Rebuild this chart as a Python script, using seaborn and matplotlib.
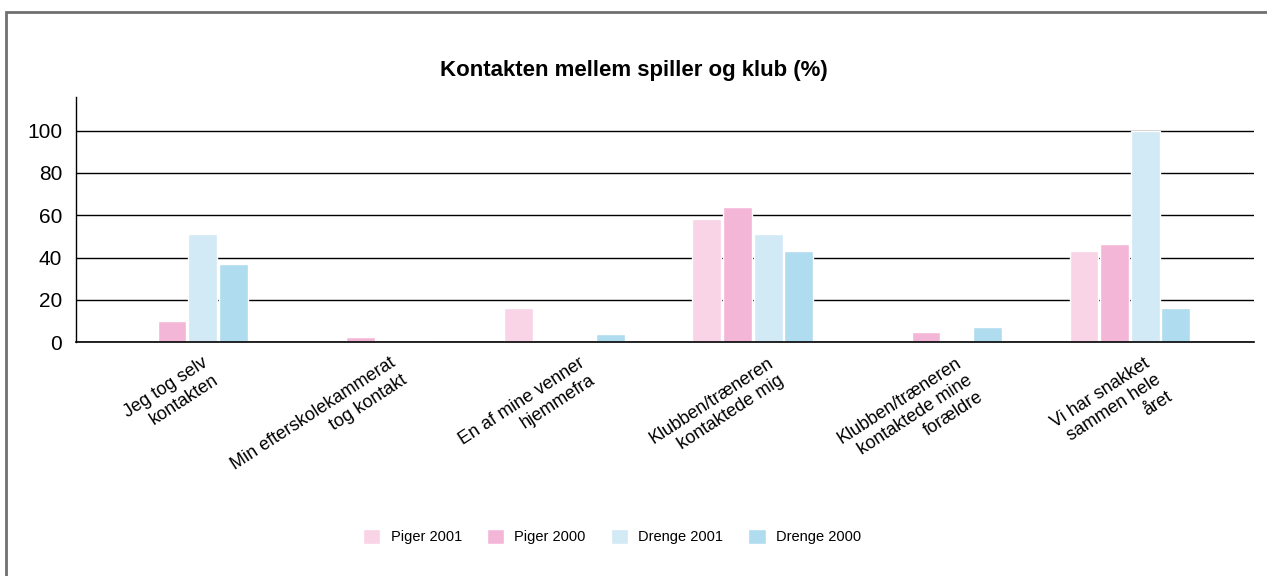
import numpy as np
import pandas as pd
import matplotlib
matplotlib.use("Agg")
import matplotlib.pyplot as plt
import matplotlib.transforms as mtransforms
from matplotlib.patches import Rectangle
import seaborn as sns

# Data
categories = [
    "Jeg tog selv\nkontakten",
    "Min efterskolekammerat\ntog kontakt",
    "En af mine venner\nhjemmefra",
    "Klubben/træneren\nkontaktede mig",
    "Klubben/træneren\nkontaktede mine\nforældre",
    "Vi har snakket\nsammen hele\nåret",
]
series = ["Piger 2001", "Piger 2000", "Drenge 2001", "Drenge 2000"]
piger_2001 = [0, 0, 16, 58, 0, 43]
piger_2000 = [10, 2.5, 0, 64, 5, 46.5]
drenge_2001 = [51, 0, 0, 51, 0, 100]
drenge_2000 = [37, 0, 4, 43, 7, 16]
colors = ["#f9d3e6", "#f4b6d6", "#d2e9f6", "#b0dcf0"]

df = pd.DataFrame({
    "kategori": categories * 4,
    "serie": np.repeat(series, len(categories)),
    "procent": piger_2001 + piger_2000 + drenge_2001 + drenge_2000,
})

sns.set_theme(style="white")
plt.rcParams["font.family"] = ["Liberation Sans", "DejaVu Sans"]
plt.rcParams["text.color"] = "black"
plt.rcParams["xtick.color"] = "black"
plt.rcParams["ytick.color"] = "black"

fig = plt.figure(figsize=(12.67, 5.76), dpi=100)
ax = fig.add_axes([0.060, 0.406, 0.930, 0.426])

sns.barplot(
    data=df, x="kategori", y="procent", hue="serie",
    hue_order=series, palette=colors, width=0.65, gap=0.06,
    saturation=1, ax=ax, legend=True,
)

ax.set_ylim(0, 116)
ax.set_xlim(-0.59, 5.66)
ax.set_yticks([0, 20, 40, 60, 80, 100])
ax.set_yticklabels(["0", "20", "40", "60", "80", "100"], fontsize=15)
ax.yaxis.grid(True, color="black", linewidth=1.0)
ax.set_axisbelow(True)
ax.tick_params(axis="y", length=0, pad=10)
ax.tick_params(axis="x", length=0, pad=9)
for side in ["top", "right"]:
    ax.spines[side].set_visible(False)
ax.spines["left"].set_color("black")
ax.spines["left"].set_linewidth(1.0)
ax.spines["bottom"].set_color("black")
ax.spines["bottom"].set_linewidth(1.2)
ax.set_xlabel("")
ax.set_ylabel("")

offset = mtransforms.ScaledTranslation(0.14, 0, fig.dpi_scale_trans)
for lbl in ax.get_xticklabels():
    lbl.set_rotation(33)
    lbl.set_ha("right")
    lbl.set_va("top")
    lbl.set_rotation_mode("anchor")
    lbl.set_multialignment("right")
    lbl.set_fontsize(13)
    lbl.set_linespacing(1.25)
    lbl.set_transform(lbl.get_transform() + offset)

handles, labels = ax.get_legend_handles_labels()
ax.get_legend().remove()
fig.legend(handles, labels, loc="center", bbox_to_anchor=(0.483, 0.069),
           ncol=4, frameon=False, fontsize=10.5, handlelength=1.2,
           handleheight=1.2, handletextpad=0.7, columnspacing=1.7)

fig.suptitle("Kontakten mellem spiller og klub (%)", x=0.5, y=0.878,
             va="center", fontsize=16, fontweight="bold")

# grey frame around the figure
fig.patches.append(Rectangle((6 / 1267, -0.1), 1.2, (576 - 12.5) / 576 + 0.1,
                             transform=fig.transFigure, fill=False,
                             edgecolor="#707070", linewidth=2))

fig.savefig("out.png", dpi=100)
